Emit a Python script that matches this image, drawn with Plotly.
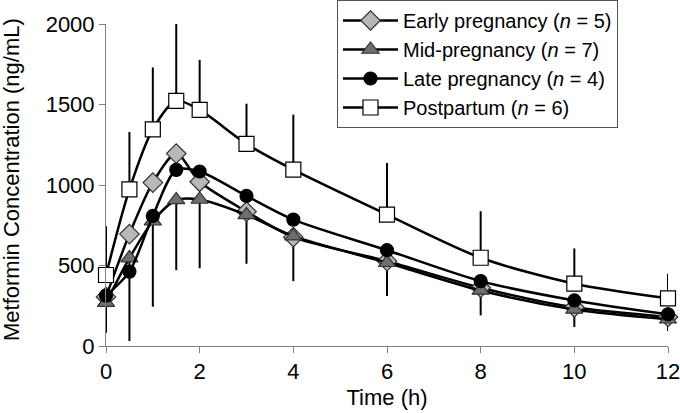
import plotly.graph_objects as go

time_h = [0, 0.5, 1, 1.5, 2, 3, 4, 6, 8, 10, 12]

early = [305, 695, 1015, 1195, 1020, 835, 676, 527, 362, 240, 180]
mid = [270, 546, 775, 907, 910, 814, 682, 517, 345, 227, 166]
late = [313, 462, 808, 1094, 1084, 932, 785, 595, 403, 283, 197]
postpartum = [441, 973, 1346, 1523, 1466, 1255, 1095, 816, 548, 387, 296]

# upper error (postpartum) and lower error (mid-pregnancy)
post_err_up = [303, 356, 384, 486, 311, 250, 342, 321, 289, 219, 153]
mid_err_down = [187, 515, 531, 436, 427, 303, 279, 207, 155, 109, 73]

labels = [
    "Early pregnancy (<i>n</i> = 5)",
    "Mid-pregnancy (<i>n</i> = 7)",
    "Late pregnancy (<i>n</i> = 4)",
    "Postpartum (<i>n</i> = 6)",
]

FONT = "Liberation Sans, Arial, Helvetica, sans-serif"

fig = go.Figure()

# error bars drawn first (behind all markers)
fig.add_trace(go.Scatter(
    x=time_h, y=postpartum, mode="markers", showlegend=False, hoverinfo="skip",
    marker=dict(size=1, opacity=0),
    error_y=dict(type="data", symmetric=False, array=post_err_up,
                 arrayminus=[0] * len(time_h), color="black", thickness=2, width=0),
    cliponaxis=False,
))
fig.add_trace(go.Scatter(
    x=time_h, y=mid, mode="markers", showlegend=False, hoverinfo="skip",
    marker=dict(size=1, opacity=0),
    error_y=dict(type="data", symmetric=False, array=[0] * len(time_h),
                 arrayminus=mid_err_down, color="black", thickness=2, width=0),
    cliponaxis=False,
))

series = [
    (early, labels[0], "diamond", "#b8b8b8", 15, "#333333"),
    (mid, labels[1], "triangle-up", "#6e6e6e", 15, "#333333"),
    (late, labels[2], "circle", "#000000", 13, "#000000"),
    (postpartum, labels[3], "square", "#ffffff", 15, "#000000"),
]
for ys, name, sym, col, size, lcol in series:
    fig.add_trace(go.Scatter(
        x=time_h, y=ys, name=name, mode="lines+markers",
        line=dict(color="black", width=2.5, shape="spline", smoothing=0.8),
        marker=dict(symbol=sym, color=col, size=size, line=dict(color=lcol, width=1.2)),
        cliponaxis=False,
    ))

fig.add_annotation(
    text="Metformin Concentration (ng/mL)", textangle=-90,
    xref="paper", yref="paper", x=0, y=0.5, xshift=-95, yshift=5,
    xanchor="center", yanchor="middle", showarrow=False,
    font=dict(family=FONT, size=22, color="black"),
)

fig.update_layout(
    width=680, height=413,
    margin=dict(l=106, r=12, t=24, b=67, autoexpand=False),
    paper_bgcolor="white", plot_bgcolor="white",
    font=dict(family=FONT, size=22, color="black"),
    showlegend=True,
    legend=dict(
        xref="container", yref="container",
        x=337 / 680, y=1, xanchor="left", yanchor="top",
        bordercolor="#555555", borderwidth=1, bgcolor="white",
        font=dict(family=FONT, size=20, color="black"),
        tracegroupgap=0, itemwidth=55, entrywidth=290,
    ),
    xaxis=dict(
        range=[0, 12], tickvals=[0, 2, 4, 6, 8, 10, 12],
        ticklabeloverflow="allow",
        showgrid=False, zeroline=False, showline=True, linecolor="#808080", linewidth=1,
        ticks="outside", ticklen=6, tickcolor="#808080",
        title=dict(text="Time (h)", font=dict(size=22), standoff=6),
        tickfont=dict(size=22),
    ),
    yaxis=dict(
        range=[0, 2000], tickvals=[0, 500, 1000, 1500, 2000],
        showgrid=False, zeroline=False, showline=True, linecolor="#808080", linewidth=1,
        ticks="outside", ticklen=6, tickcolor="#808080",
        tickfont=dict(size=22),
    ),
)

fig.write_html("out.html", config={"displayModeBar": False},
               post_script="document.body.style.margin='0';")
